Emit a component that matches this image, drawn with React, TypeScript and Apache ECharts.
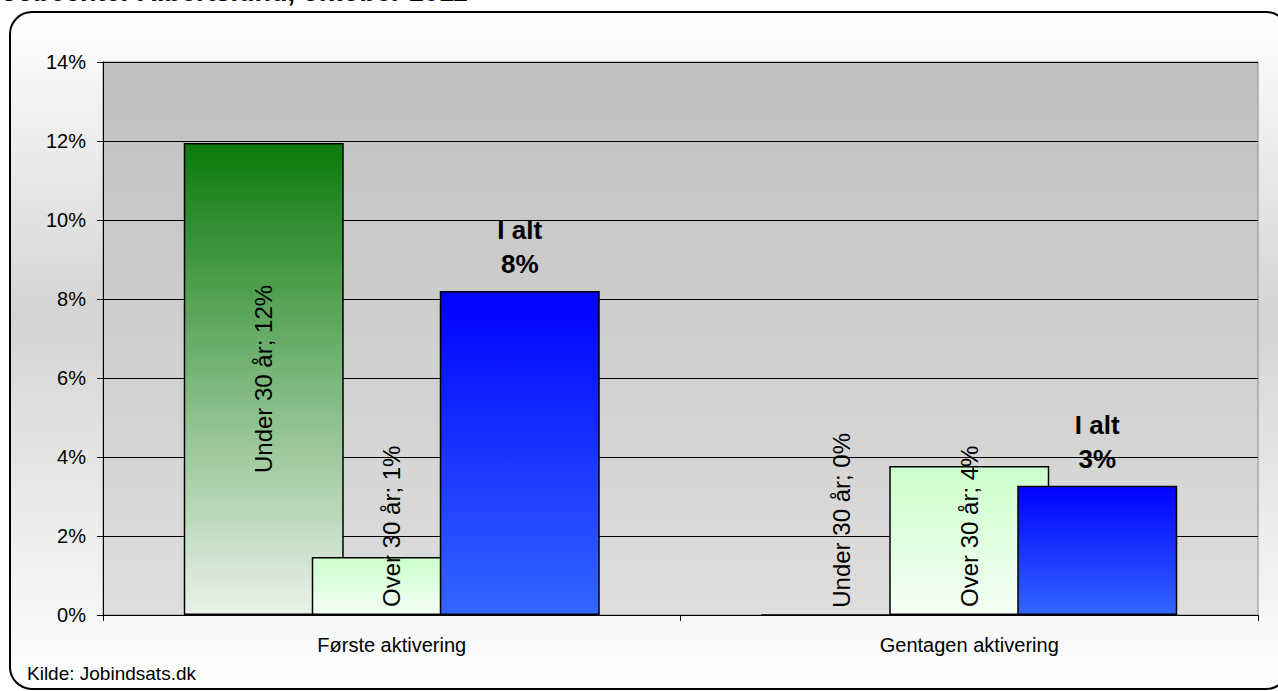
import React, { useEffect, useRef } from 'react';
import * as echarts from 'echarts';

const FONT = "Arial, 'Liberation Sans', sans-serif";

const title = 'Jobcenter Albertslund, oktober 2011';
const source = 'Kilde: Jobindsats.dk';
const categories = ['Første aktivering', 'Gentagen aktivering'];
const under30 = [11.95, 0];
const over30 = [1.47, 3.77];
const iAlt = [8.2, 3.27];
const under30Name = 'Under 30 år';
const over30Name = 'Over 30 år';
const totalName = 'I alt';

export default function App() {
  const ref = useRef<HTMLDivElement>(null);

  useEffect(() => {
    document.body.style.margin = '0';
    const chart = echarts.init(ref.current as HTMLDivElement, null, { renderer: 'svg' });
    const lg = (stops: [number, string][]) =>
      new echarts.graphic.LinearGradient(
        0, 0, 0, 1,
        stops.map(([offset, color]) => ({ offset, color }))
      );

    const rotLabel = (name: string) => ({
      show: true,
      rotate: 90,
      fontSize: 24,
      color: '#000',
      fontFamily: FONT,
      formatter: (p: any) => `${name}; ${Math.round(p.value)}%`,
    });
    const bottomLabel = { position: 'insideBottom', align: 'left', verticalAlign: 'middle', distance: 8 };
    const insideLabel = { position: 'inside', align: 'center', verticalAlign: 'middle' };

    const option: any = {
      animation: false,
      graphic: [
        {
          type: 'rect',
          z: -10,
          silent: true,
          shape: { x: 10, y: 12, width: 1278, height: 677, r: 22 },
          style: {
            fill: lg([[0, '#ffffff'], [0.45, '#d4d4d4'], [1, '#ffffff']]),
            stroke: '#000',
            lineWidth: 2,
          },
        },
        {
          type: 'text',
          left: 2,
          top: -22,
          style: {
            text: title,
            font: `bold 27px ${FONT}`,
            fill: '#000',
          },
        },
        {
          type: 'text',
          left: 27,
          top: 664,
          style: {
            text: source,
            font: `19px ${FONT}`,
            fill: '#000',
          },
        },
      ],
      grid: {
        left: 103,
        right: 20,
        top: 62,
        bottom: 76,
        show: true,
        backgroundColor: lg([[0, '#c0c0c0'], [1, '#dedede']]),
        borderColor: '#8c8c8c',
        borderWidth: 1,
      },
      xAxis: {
        type: 'category',
        data: categories,
        axisLine: { show: true, lineStyle: { color: '#000', width: 1 } },
        axisTick: { show: true, length: 6, lineStyle: { color: '#000' } },
        axisLabel: { fontSize: 20, color: '#000', fontFamily: FONT, margin: 20 },
        splitLine: { show: false },
      },
      yAxis: {
        type: 'value',
        min: 0,
        max: 14,
        interval: 2,
        axisLine: { show: true, lineStyle: { color: '#000', width: 1 } },
        axisTick: { show: true, length: 6, inside: false, lineStyle: { color: '#000' } },
        axisLabel: { fontSize: 20, color: '#000', fontFamily: FONT, margin: 17, formatter: '{value}%' },
        splitLine: { show: true, lineStyle: { color: '#000', width: 1 } },
      },
      series: [
        {
          name: under30Name,
          type: 'bar',
          barWidth: 160,
          barGap: '-20%',
          itemStyle: {
            color: lg([[0, '#0b7a0b'], [1, '#eaf2ea']]),
            borderColor: '#000',
            borderWidth: 1.5,
          },
          label: rotLabel(under30Name),
          data: under30.map((v, i) => ({ value: v, label: i === 0 ? insideLabel : bottomLabel })),
        },
        {
          name: over30Name,
          type: 'bar',
          barWidth: 160,
          barGap: '-20%',
          itemStyle: {
            color: lg([[0, '#ccffcc'], [1, '#f5fff5']]),
            borderColor: '#000',
            borderWidth: 1.5,
          },
          label: rotLabel(over30Name),
          data: over30.map((v) => ({ value: v, label: bottomLabel })),
        },
        {
          name: totalName,
          type: 'bar',
          barWidth: 160,
          barGap: '-20%',
          itemStyle: {
            color: lg([[0, '#0000ff'], [1, '#3366ff']]),
            borderColor: '#000',
            borderWidth: 1.5,
          },
          label: {
            show: true,
            position: 'top',
            distance: 10,
            fontSize: 26,
            lineHeight: 34,
            fontWeight: 'bold',
            color: '#000',
            fontFamily: FONT,
            formatter: (p: any) => `${totalName}\n${Math.round(p.value)}%`,
          },
          data: iAlt,
        },
      ],
    };

    chart.setOption(option);
    return () => chart.dispose();
  }, []);

  return (
    <div
      ref={ref}
      style={{ position: 'absolute', left: 0, top: 0, width: 1278, height: 691 }}
    />
  );
}
